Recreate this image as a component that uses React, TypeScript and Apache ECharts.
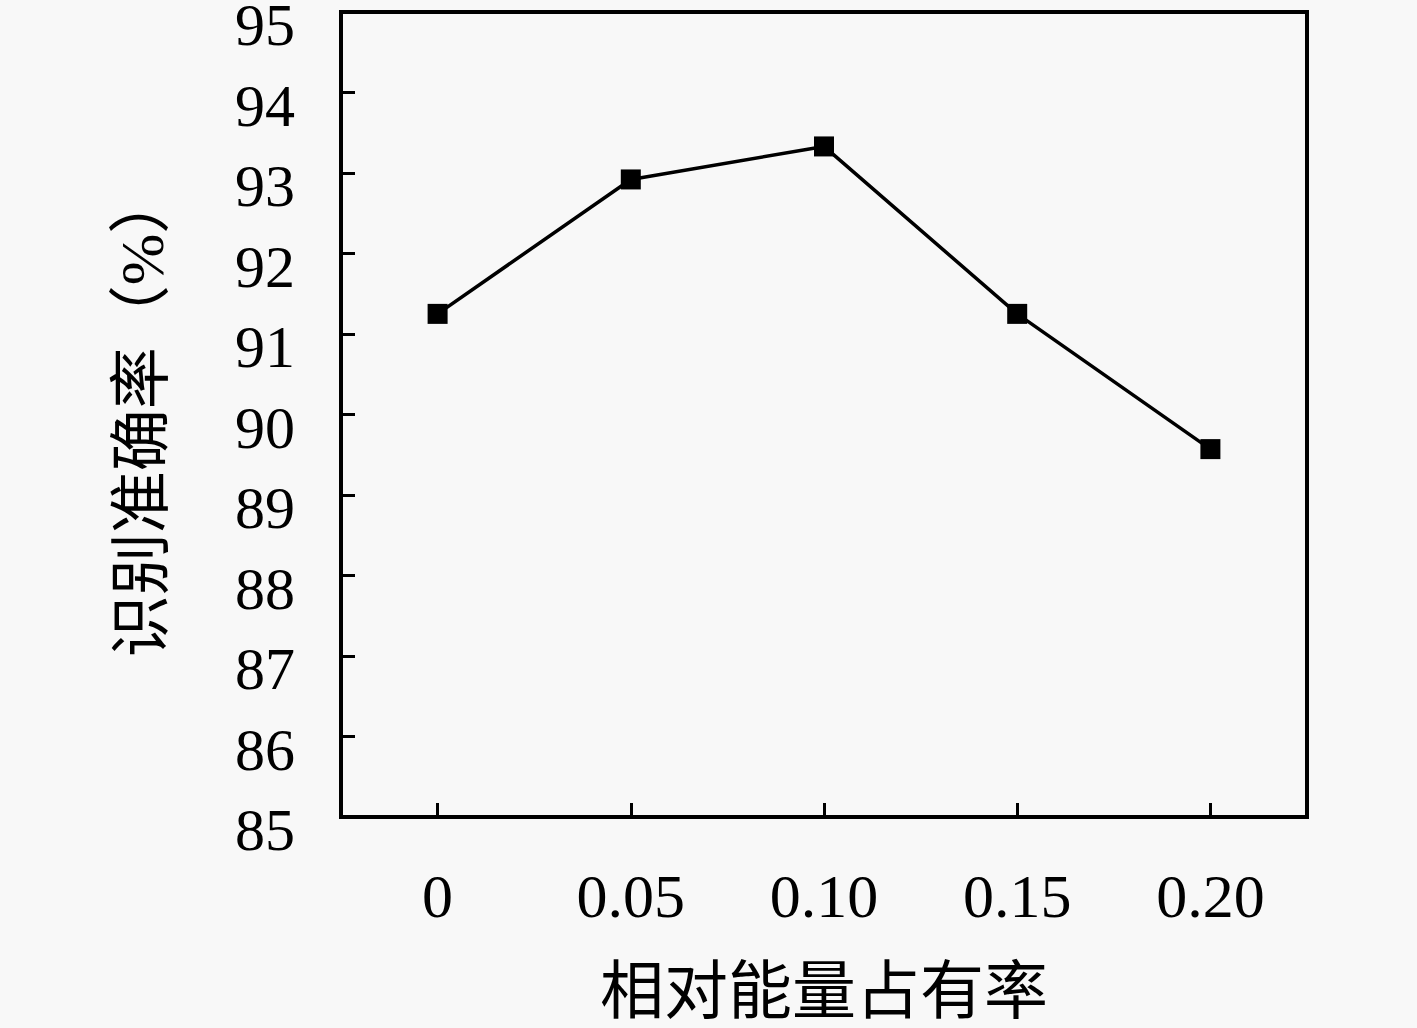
import React, { useEffect, useRef } from "react";
import * as echarts from "echarts";

const categories = ["0", "0.05", "0.10", "0.15", "0.20"];
const accuracy = [91.25, 92.92, 93.33, 91.25, 89.57];
const yMin = 85;
const yMax = 95;
const yInterval = 1;
const xTitle = "相对能量占有率";
const yTitle = "识别准确率（%）";

const FONT = '"Liberation Serif", "DejaVu Serif", "Noto Sans CJK SC", serif';

export default function App() {
  const ref = useRef<HTMLDivElement>(null);
  useEffect(() => {
    if (!ref.current) return;
    const chart = echarts.init(ref.current, null, { renderer: "svg" });
    chart.setOption({
      animation: false,
      backgroundColor: "#f8f8f8",
      grid: {
        left: 341,
        right: 110,
        top: 12,
        bottom: 211,
        containLabel: false,
        outerBoundsMode: "none",
        show: true,
        borderColor: "#000",
        borderWidth: 4,
        backgroundColor: "transparent",
      },
      xAxis: {
        type: "category",
        data: categories,
        boundaryGap: true,
        name: xTitle,
        nameLocation: "middle",
        nameGap: 142,
        nameTextStyle: { fontFamily: FONT, fontSize: 64, color: "#000", verticalAlign: "top" },
        axisLine: { show: true, lineStyle: { color: "#000", width: 4 } },
        axisTick: { show: true, inside: true, alignWithLabel: true, length: 14, lineStyle: { color: "#000", width: 3 } },
        axisLabel: { fontFamily: FONT, fontSize: 62, color: "#000", margin: 48 },
        splitLine: { show: false },
      },
      yAxis: {
        type: "value",
        min: yMin,
        max: yMax,
        interval: yInterval,
        name: yTitle,
        nameLocation: "middle",
        nameGap: 168,
        nameRotate: 90,
        nameTextStyle: { fontFamily: FONT, fontSize: 62, color: "#000" },
        axisLine: { show: true, lineStyle: { color: "#000", width: 4 } },
        axisTick: { show: true, inside: true, length: 14, lineStyle: { color: "#000", width: 3 } },
        axisLabel: {
          fontFamily: FONT,
          fontSize: 60,
          color: "#000",
          margin: 46,
          verticalAlign: "top",
          lineHeight: 26,
        },
        splitLine: { show: false },
      },
      series: [
        {
          type: "line",
          data: accuracy,
          symbol: "rect",
          symbolSize: 20,
          itemStyle: { color: "#000" },
          lineStyle: { color: "#000", width: 3.5 },
        },
      ],
    });
    return () => chart.dispose();
  }, []);
  return (
    <div
      ref={ref}
      style={{ position: "fixed", left: 0, top: 0, width: 1417, height: 1028 }}
    />
  );
}
